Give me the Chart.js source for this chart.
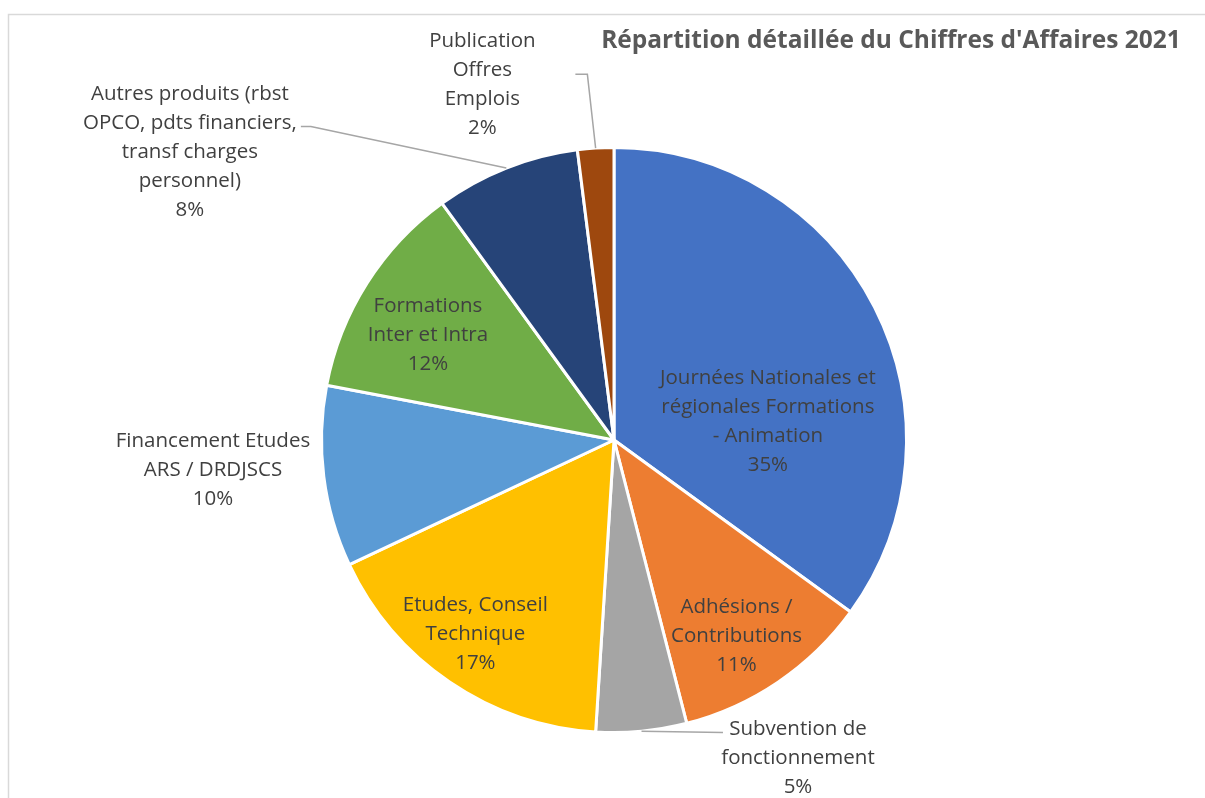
<!DOCTYPE html>
<html>
<head>
<meta charset="utf-8">
<script src="https://cdn.jsdelivr.net/npm/chart.js@4.4.0/dist/chart.umd.min.js"></script>
<style>
  html, body { margin: 0; padding: 0; background: #fff; }
  #wrap { position: relative; width: 1205px; height: 798px; }
</style>
</head>
<body>
<div id="wrap"><canvas id="pie" width="1205" height="798"></canvas></div>
<script>
const categories = [
  ["Journées Nationales et", "régionales Formations", "- Animation"],
  ["Adhésions /", "Contributions"],
  ["Subvention de", "fonctionnement"],
  ["Etudes, Conseil", "Technique"],
  ["Financement Etudes", "ARS / DRDJSCS"],
  ["Formations", "Inter et Intra"],
  ["Autres produits (rbst", "OPCO, pdts financiers,", "transf charges", "personnel)"],
  ["Publication", "Offres", "Emplois"]
];
const shares = [35, 11, 5, 17, 10, 12, 8, 2];
const sliceColors = ["#4472C4", "#ED7D31", "#A5A5A5", "#FFC000", "#5B9BD5", "#70AD47", "#264478", "#9E480E"];

// label centre, in pie radii from the pie centre
const labelPos = [
  [0.526, -0.062], [0.419, 0.670], [0.629, 1.089], [-0.474, 0.663],
  [-1.371, 0.103], [-0.636, -0.357], [-1.450, -0.983], [-0.450, -1.216]
];
// leader line points (px from label centre), drawn from the slice edge
const leaders = [null, null, [[-75, -26]], null, null, null, [[121, -26], [111, -26]], [[105, -10], [93, -10]]];

const TEXT = "#404040";
const FONT = "'Open Sans', sans-serif";

const pieLabels = {
  id: "pieLabels",
  beforeDraw(chart) {
    const ctx = chart.ctx;
    ctx.save();
    ctx.strokeStyle = "#D9D9D9";
    ctx.lineWidth = 1.5;
    ctx.strokeRect(8.5, 14.5, 1400, 1000);
    ctx.restore();
  },
  afterDatasetsDraw(chart) {
    const ctx = chart.ctx;
    const arcs = chart.getDatasetMeta(0).data;
    ctx.save();
    arcs.forEach((arc, i) => {
      const R = arc.outerRadius;
      const lx = arc.x + labelPos[i][0] * R;
      const ly = arc.y + labelPos[i][1] * R;
      if (leaders[i]) {
        const mid = (arc.startAngle + arc.endAngle) / 2;
        ctx.beginPath();
        ctx.moveTo(arc.x + Math.cos(mid) * R, arc.y + Math.sin(mid) * R);
        leaders[i].forEach(p => ctx.lineTo(lx + p[0], ly + p[1]));
        ctx.strokeStyle = "#A6A6A6";
        ctx.lineWidth = 1.5;
        ctx.stroke();
      }
      const lines = categories[i].concat([shares[i] + "%"]);
      const lh = 29;
      ctx.fillStyle = TEXT;
      ctx.font = "20.5px " + FONT;
      ctx.textAlign = "center";
      ctx.textBaseline = "middle";
      lines.forEach((t, k) => {
        ctx.fillText(t, lx, ly + (k - (lines.length - 1) / 2) * lh);
      });
    });
    ctx.fillStyle = "#595959";
    ctx.font = "bold 24.5px " + FONT;
    ctx.textAlign = "center";
    ctx.textBaseline = "middle";
    ctx.fillText("Répartition détaillée du Chiffres d'Affaires 2021", 891, 41);
    ctx.restore();
  }
};

new Chart(document.getElementById("pie"), {
  type: "pie",
  plugins: [pieLabels],
  data: {
    labels: categories.map(c => c.join(" ")),
    datasets: [{
      data: shares,
      backgroundColor: sliceColors,
      borderColor: "#FFFFFF",
      borderWidth: 3
    }]
  },
  options: {
    responsive: false,
    animation: false,
    layout: { padding: { top: 146, bottom: 64, left: 320, right: 297 } },
    plugins: {
      legend: { display: false },
      tooltip: { enabled: false },
      title: { display: false }
    }
  }
});
</script>
</body>
</html>
